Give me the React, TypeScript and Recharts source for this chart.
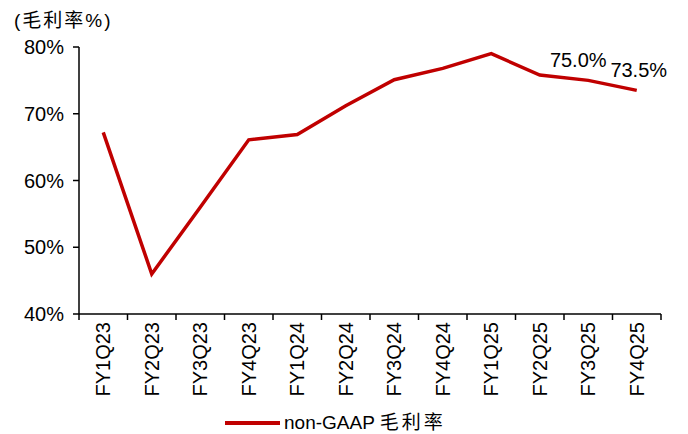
import { Line, LineChart, LabelList, XAxis, YAxis } from "recharts";

const RED = "#c00000";
const FONT = "'Liberation Sans', Arial, 'Noto Sans CJK SC', sans-serif";
const HALF_BAND = 24.25;

const quarters = [
  "FY1Q23", "FY2Q23", "FY3Q23", "FY4Q23", "FY1Q24", "FY2Q24",
  "FY3Q24", "FY4Q24", "FY1Q25", "FY2Q25", "FY3Q25", "FY4Q25",
];
const grossMargin = [67.2, 46.0, 56.0, 66.1, 66.9, 71.2, 75.1, 76.8, 79.0, 75.8, 75.0, 73.5];
const yTicks = [40, 50, 60, 70, 80];
const labelled = [10, 11];

const data = quarters.map((q, i) => ({ q, gm: grossMargin[i] }));

function QuarterTick(props: any) {
  const { x, y, payload, index } = props;
  return (
    <g>
      <line x1={x - HALF_BAND} y1={y} x2={x - HALF_BAND} y2={y + 6} stroke="#000" strokeWidth={1.5} />
      {index === quarters.length - 1 && (
        <line x1={x + HALF_BAND} y1={y} x2={x + HALF_BAND} y2={y + 6} stroke="#000" strokeWidth={1.5} />
      )}
      <text
        x={x}
        y={y + 8}
        transform={`rotate(-90, ${x}, ${y + 8})`}
        textAnchor="end"
        dominantBaseline="central"
        fontSize={20}
        fontFamily={FONT}
        fill="#000"
      >
        {payload.value}
      </text>
    </g>
  );
}

function PointLabel(props: any) {
  const { x, y, value, index } = props;
  if (!labelled.includes(index)) return null;
  const dx = index === 10 ? -10 : 2;
  return (
    <text x={x + dx} y={y - 13} textAnchor="middle" fontSize={20} fontFamily={FONT} fill="#000">
      {value.toFixed(1)}%
    </text>
  );
}

export default function App() {
  return (
    <div style={{ position: "absolute", left: 0, top: 0, width: 688, height: 434, background: "#fff" }}>
      <div
        style={{
          position: "absolute",
          left: 14,
          top: 5,
          fontSize: 19,
          letterSpacing: 2,
          fontFamily: FONT,
          color: "#000",
        }}
      >
        (毛利率%)
      </div>
      <LineChart width={688} height={434} data={data} margin={{ top: 47, right: 27, left: 0, bottom: 30 }}>
        <XAxis
          dataKey="q"
          interval={0}
          height={90}
          padding={{ left: HALF_BAND, right: HALF_BAND }}
          tickSize={0}
          tickMargin={0}
          tickLine={false}
          axisLine={{ stroke: "#000", strokeWidth: 1.5 }}
          tick={<QuarterTick />}
        />
        <YAxis
          domain={[40, 80]}
          ticks={yTicks}
          width={79}
          tickSize={6}
          tickMargin={9}
          tickFormatter={(v) => `${v}%`}
          tick={{ fontSize: 20, fill: "#000", fontFamily: FONT }}
          axisLine={{ stroke: "#000", strokeWidth: 1.5 }}
          tickLine={{ stroke: "#000", strokeWidth: 1.5 }}
        />
        <Line
          type="linear"
          dataKey="gm"
          stroke={RED}
          strokeWidth={3.5}
          dot={false}
          isAnimationActive={false}
        >
          <LabelList dataKey="gm" content={<PointLabel />} />
        </Line>
      </LineChart>
      <div
        style={{
          position: "absolute",
          left: 225,
          top: 412,
          height: 22,
          lineHeight: "22px",
          display: "flex",
          alignItems: "center",
          fontFamily: FONT,
          fontSize: 19,
          color: "#000",
        }}
      >
        <span style={{ display: "inline-block", width: 55, height: 4, background: RED, marginRight: 4 }} />
        <span>
          non-GAAP <span style={{ letterSpacing: 3 }}>毛利率</span>
        </span>
      </div>
    </div>
  );
}
